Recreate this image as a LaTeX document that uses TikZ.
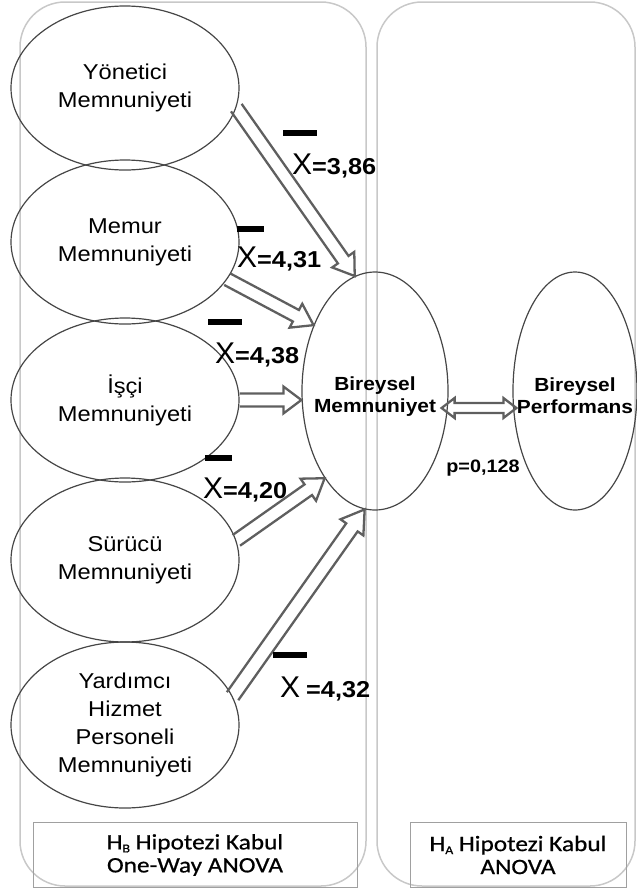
\documentclass[tikz,border=0pt]{standalone}
\usepackage{fontspec}
\setmainfont{Liberation Sans}
\newfontfamily\wideface{Liberation Sans}[FakeStretch=1.1]
\newfontfamily\plainface{Liberation Sans}
\newfontfamily\footface{Carlito}[FakeStretch=1.15, FakeBold=0.6]
\usetikzlibrary{calc,shapes.geometric}

\definecolor{panelgray}{RGB}{200,200,200}
\definecolor{edgegray}{RGB}{70,70,70}
\definecolor{arrowgray}{RGB}{95,95,95}
\definecolor{boxgray}{RGB}{160,160,160}

\tikzset{
  panel/.style={draw=panelgray, line width=1.5pt, rounded corners=45pt},
  footbox/.style={draw=boxgray, line width=1pt},
  factor/.style={ellipse, draw=edgegray, line width=1.2pt, minimum width=228pt,
    minimum height=164pt, inner sep=0pt, align=center,
    font=\wideface\fontsize{21.5}{28}\selectfont},
  outcome/.style={ellipse, draw=edgegray, line width=1.2pt, inner sep=0pt,
    minimum height=238pt},
  boldtext/.style={align=center, inner sep=0pt,
    font=\wideface\bfseries\fontsize{19}{22}\selectfont},
  meanlabel/.style={anchor=base west, inner sep=0pt},
  meanbar/.style={line width=6pt, black},
  hollow/.style={draw=arrowgray, line width=2.3pt, line join=miter},
  foottext/.style={align=center, inner sep=0pt,
    font=\footface\fontsize{22}{23}\selectfont}
}

% X-bar value: thin X followed by the bold value
\newcommand\meanval[1]{{\plainface\fontsize{30}{30}\selectfont X}{\wideface\bfseries\fontsize{23}{23}\selectfont #1}}
\newcommand\subB[1]{\raisebox{-3pt}{\fontsize{12}{12}\selectfont #1}}

% hollow block arrow: from, to, shaft half width, head half width, head length
\newcommand\hollowarrow[5]{%
  \path ($(#2)!#5!(#1)$) coordinate (hb);
  \draw[hollow] ($(#1)!#3!90:(#2)$) -- ($(hb)!#3!90:(#2)$) -- ($(hb)!#4!90:(#2)$)
    -- (#2) -- ($(hb)!#4!-90:(#2)$) -- ($(hb)!#3!-90:(#2)$) -- ($(#1)!#3!-90:(#2)$);
}
% hollow block arrow with heads at both ends
\newcommand\hollowdouble[5]{%
  \path ($(#1)!#5!(#2)$) coordinate (hba) ($(#2)!#5!(#1)$) coordinate (hbb);
  \draw[hollow] (#1) -- ($(hba)!#4!90:(#2)$) -- ($(hba)!#3!90:(#2)$)
    -- ($(hbb)!#3!90:(#2)$) -- ($(hbb)!#4!90:(#2)$) -- (#2)
    -- ($(hbb)!#4!-90:(#2)$) -- ($(hbb)!#3!-90:(#2)$)
    -- ($(hba)!#3!-90:(#2)$) -- ($(hba)!#4!-90:(#2)$) -- cycle;
}

\begin{document}
\begin{tikzpicture}[x=1pt, y=-1pt]
\useasboundingbox (0,0) rectangle (637,895);

% hypothesis panels
\draw[panel] (20,2) rectangle (366,886);
\draw[panel] (377,2) rectangle (635,886);

% satisfaction factors
\node[factor] (yon)  at (125,88)  {Yönetici\\Memnuniyeti};
\node[factor] (mem)  at (125,242) {Memur\\Memnuniyeti};
\node[factor] (isci) at (125,400) {İşçi\\Memnuniyeti};
\node[factor] (sur)  at (125,560) {Sürücü\\Memnuniyeti};
\node[factor, minimum height=166pt] (yard) at (125,725)
  {Yardımcı\\Hizmet\\Personeli\\Memnuniyeti};

% outcome variables
\node[outcome, minimum width=146pt] (bm) at (375,391) {};
\node[outcome, minimum width=124pt] (bp) at (575,391) {};
\node[boldtext] (bmtext) at (375,397) {Bireysel\\Memnuniyet};
\node[boldtext] (bptext) at (575,396) {Bireysel\\Performans};

% factor -> individual satisfaction
\coordinate (iscitip) at (isci.east -| bm.west);
\hollowarrow{yon.-10}{bm.100}{6.5pt}{13.5pt}{20pt}
\hollowarrow{mem.-20}{bm.133}{6.5pt}{13.5pt}{20pt}
\hollowarrow{isci.east}{iscitip}{6.5pt}{13.5pt}{18pt}
\hollowarrow{sur.10}{bm.240}{6.5pt}{13.5pt}{20pt}
\hollowarrow{yard.15}{bm.265}{7pt}{14pt}{22pt}

% satisfaction <-> performance
\coordinate (dl) at ([shift={(-7pt,-17pt)}]bm.east);
\coordinate (dr) at ([shift={(4pt,-17pt)}]bp.west);
\hollowdouble{dl}{dr}{5pt}{10pt}{13pt}
\node[font=\wideface\bfseries\fontsize{18}{18}\selectfont, inner sep=0pt] (pval)
  at (483,468) {p=0,128};

% group means
\node[meanlabel] (m1) at (292,174) {\meanval{=3,86}};
\node[meanlabel] (m2) at (237,267) {\meanval{=4,31}};
\node[meanlabel] (m3) at (215,363) {\meanval{=4,38}};
\node[meanlabel] (m4) at (203,498) {\meanval{=4,20}};
\node[meanlabel] (m5) at (280,697) {\meanval{\hspace{6pt}=4,32}};
\draw[meanbar] (283,133) -- (317,133);
\draw[meanbar] (237,229) -- (264,229);
\draw[meanbar] (208,322) -- (242,322);
\draw[meanbar] (205,458) -- (232,458);
\draw[meanbar] (273,655) -- (307,655);

% hypothesis results
\draw[footbox] (33,822) rectangle (357,887);
\draw[footbox] (410,822) rectangle (626,887);
\node[foottext] (hb) at (195,855) {H\subB{B} Hipotezi Kabul\\One-Way ANOVA};
\node[foottext] (ha) at (518,855) {H\subB{A} Hipotezi Kabul\\ANOVA};
\end{tikzpicture}
\end{document}
